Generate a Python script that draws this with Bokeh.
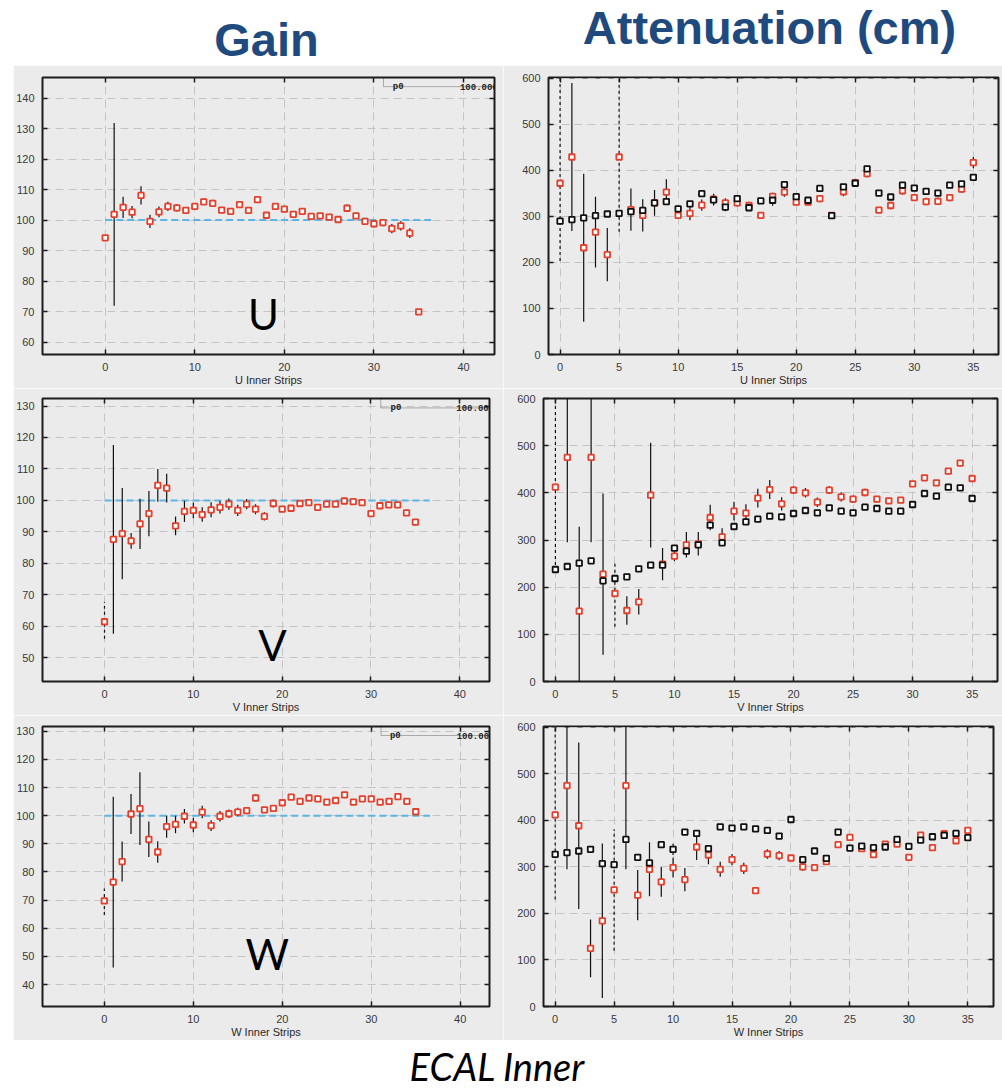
import numpy as np
from bokeh.plotting import figure
from bokeh.layouts import column, row
from bokeh.models import (Range1d, LinearAxis, SingleIntervalTicker, Label,
                          BoxAnnotation, CustomJSTickFormatter, Spacer)
from bokeh.embed import file_html
from bokeh.resources import INLINE

# ---------------- data ----------------
strips = list(range(36))

fit_p0 = 100.0
fit_x = [0.0, 36.6]

gain_u = [94.2, 101.9, 104.2, 102.6, 108.1, 99.6, 102.7, 104.5, 104.0, 103.2, 104.5, 106.0,
          105.5, 103.3, 102.9, 105.1, 103.2, 106.7, 101.6, 104.5, 103.6, 101.9, 102.9, 101.2,
          101.4, 101.0, 100.2, 103.9, 101.4, 99.6, 98.8, 99.2, 97.2, 98.1, 95.7, 69.9]
gain_u_err = [0, 30.0, 3.5, 2.0, 3.0, 2.2, 1.8, 1.5, 1.2, 1.0, 1.0, 1.0, 1.2, 1.0, 1.0, 1.0,
              1.0, 1.0, 1.0, 1.0, 1.0, 1.0, 1.0, 0.8, 0.8, 0.8, 0.8, 1.2, 1.0, 1.2, 1.2, 1.2,
              1.5, 1.5, 1.6, 0.8]
gain_u_dash_x, gain_u_dash_lo, gain_u_dash_hi = [], [], []

gain_v = [61.4, 87.6, 89.4, 87.1, 92.5, 95.8, 104.8, 103.9, 91.9, 96.5, 96.8, 95.5, 97.0,
          97.8, 98.8, 96.8, 98.8, 97.2, 94.9, 99.0, 97.2, 97.5, 99.0, 99.3, 97.8, 98.8, 98.8,
          99.8, 99.6, 99.3, 95.8, 98.3, 98.6, 98.6, 96.0, 93.1]
gain_v_err = [0, 30.0, 14.5, 2.5, 8.0, 7.2, 5.2, 4.6, 3.0, 3.4, 2.5, 2.3, 2.4, 2.0, 1.8, 1.8,
              1.6, 1.6, 1.3, 1.3, 1.0, 1.0, 1.0, 1.0, 1.0, 1.0, 1.0, 1.0, 1.0, 1.0, 1.0, 1.0,
              1.0, 1.0, 1.0, 1.0]
gain_v_dash_x, gain_v_dash_lo, gain_v_dash_hi = [0], [56.0], [67.7]

gain_w = [69.7, 76.4, 83.7, 100.6, 102.5, 91.6, 87.1, 96.1, 96.9, 99.8, 96.7, 101.3, 96.5,
          99.8, 100.7, 101.3, 101.8, 106.3, 102.1, 102.6, 104.6, 106.6, 105.1, 106.3, 106.0,
          104.8, 105.4, 107.4, 104.8, 106.0, 106.0, 104.8, 105.1, 106.8, 105.1, 101.4]
gain_w_err = [0, 30.3, 7.1, 7.1, 12.9, 6.3, 3.8, 3.9, 3.1, 2.6, 2.6, 2.2, 1.9, 1.9, 1.5, 1.5,
              1.3, 1.2, 1.0, 1.0, 1.0, 1.0, 1.0, 1.0, 1.0, 1.0, 1.0, 1.0, 1.0, 1.0, 1.0, 1.0,
              1.0, 1.0, 1.0, 1.0]
gain_w_dash_x, gain_w_dash_lo, gain_w_dash_hi = [0], [64.7], [74.1]

att_u_red = [372.2, 429.2, 232.0, 266.0, 217.0, 429.2, 315.0, 302.5, 329.5, 353.0, 302.5,
             306.8, 324.6, 337.4, 329.5, 329.5, 323.8, 302.5, 343.8, 353.0, 331.0, 331.0,
             338.8, 302.5, 353.7, 373.7, 392.9, 313.9, 323.8, 355.9, 341.0, 332.4, 333.0,
             341.0, 359.4, 417.0]
att_u_red_err = [0, 161, 161, 77, 58, 0, 46, 35, 28, 28, 6, 15, 12, 12, 10, 8, 8, 6, 8, 10,
                 6, 6, 8, 4, 10, 5, 8, 6, 8, 8, 6, 8, 8, 8, 8, 12]
att_u_black = [289.7, 293.2, 296.8, 301.8, 305.3, 306.8, 310.3, 313.2, 329.5, 332.4, 316.7,
               327.4, 349.5, 336.0, 320.3, 338.8, 318.9, 333.8, 335.2, 369.4, 343.0, 335.2,
               360.9, 301.8, 364.4, 372.2, 403.6, 350.9, 342.3, 368.0, 361.6, 354.4, 350.9,
               368.0, 370.8, 385.0]
att_u_black_err = [4, 4, 4, 4, 4, 4, 5, 5, 6, 6, 5, 6, 6, 12, 9, 6, 6, 5, 12, 6, 5, 5, 5, 4,
                   5, 4, 5, 4, 4, 5, 5, 5, 5, 5, 5, 5]
att_u_dash_x, att_u_dash_lo, att_u_dash_hi = [0, 5], [203, 267], [610, 610]

att_v_red = [412.0, 475.0, 149.0, 475.0, 227.6, 186.6, 150.5, 169.0, 395.0, 248.8, 265.7,
             289.8, 291.9, 347.7, 306.7, 361.1, 356.9, 388.7, 407.0, 376.7, 405.7, 400.0,
             380.2, 405.7, 391.5, 386.6, 400.7, 386.6, 383.0, 384.5, 419.0, 431.8, 421.2,
             446.0, 463.0, 430.4]
att_v_red_err = [0, 180, 179, 180, 171, 0, 30, 27, 111, 34, 10, 27, 25, 27, 18, 20, 19, 20,
                 20, 14, 8, 10, 10, 8, 10, 8, 8, 6, 6, 6, 6, 6, 6, 6, 6, 6]
att_v_black = [237.5, 243.8, 250.9, 255.8, 213.4, 218.4, 221.9, 238.9, 246.6, 246.6, 282.7,
               276.3, 289.8, 331.4, 294.0, 328.6, 338.5, 344.2, 350.5, 349.1, 356.2, 362.5,
               357.6, 368.2, 361.1, 357.6, 369.6, 366.8, 361.1, 361.1, 375.3, 398.6, 392.9,
               412.0, 410.6, 388.0]
att_v_black_err = [4, 4, 4, 4, 5, 5, 5, 5, 5, 5, 5, 5, 5, 6, 5, 5, 5, 5, 5, 5, 5, 5, 5, 5, 5,
                   5, 5, 5, 5, 5, 5, 5, 5, 5, 5, 5]
att_v_dash_x, att_v_dash_lo, att_v_dash_hi = [0, 5], [247, 116], [610, 254]

att_w_red = [412.0, 475.0, 388.6, 125.0, 184.3, 250.7, 475.0, 239.3, 295.0, 267.9, 298.6,
             272.9, 342.9, 325.7, 295.0, 315.7, 297.0, 249.3, 327.9, 324.3, 319.3, 300.0,
             298.6, 311.4, 347.9, 363.6, 339.3, 326.4, 349.3, 349.3, 320.7, 368.6, 341.4,
             371.4, 356.4, 378.6]
att_w_red_err = [0, 180, 179, 62, 166, 0, 180, 54, 58, 32, 21, 25, 28, 20, 16, 12, 12, 6, 10,
                 10, 6, 8, 6, 6, 6, 6, 6, 6, 6, 6, 6, 6, 6, 6, 6, 6]
att_w_black = [327.1, 330.7, 334.3, 337.9, 307.1, 305.0, 359.3, 320.7, 308.6, 347.9, 337.9,
               375.0, 372.1, 339.3, 386.4, 383.6, 386.4, 382.1, 378.6, 366.4, 402.1, 315.7,
               334.3, 318.6, 375.0, 340.7, 345.0, 341.4, 342.9, 359.3, 344.3, 357.9, 365.0,
               367.9, 372.1, 362.9]
att_w_black_err = [4, 4, 4, 4, 5, 5, 5, 5, 5, 5, 12, 5, 5, 8, 5, 5, 5, 5, 5, 5, 5, 5, 5, 5, 5,
                   5, 5, 5, 5, 5, 5, 5, 5, 5, 5, 5]
att_w_dash_x, att_w_dash_lo, att_w_dash_hi = [0, 5], [230, 120], [610, 381]

# ---------------- style ----------------
PANEL_BG = "#ebebeb"
RED = "#e2412d"
BLUE = "#5cb6e4"
GRID = "#c4c4c4"
FONT = "Liberation Sans"
TITLE_BLUE = "#1f4a7e"
EMPTY = "return ''"


def make_panel(w, h, xr, yr, borders, xint, yint, xlabel):
    p = figure(width=w, height=h, x_range=Range1d(*xr), y_range=Range1d(*yr),
               output_backend="svg", toolbar_location=None, tools="", title=None,
               min_border_left=borders[0], min_border_right=borders[1],
               min_border_top=borders[2], min_border_bottom=borders[3])
    p.background_fill_color = PANEL_BG
    p.border_fill_color = PANEL_BG
    p.outline_line_color = "#1c1c1c"
    p.outline_line_width = 2
    xa = p.below[0]
    ya = p.left[0]
    xa.ticker = SingleIntervalTicker(interval=xint)
    ya.ticker = SingleIntervalTicker(interval=yint)
    top = LinearAxis(ticker=SingleIntervalTicker(interval=xint),
                     formatter=CustomJSTickFormatter(code=EMPTY))
    right = LinearAxis(ticker=SingleIntervalTicker(interval=yint),
                       formatter=CustomJSTickFormatter(code=EMPTY))
    p.add_layout(top, "above")
    p.add_layout(right, "right")
    for ax in (top, right):
        ax.major_label_standoff = 0
        ax.major_label_text_font_size = "1px"
    for ax in (xa, ya, top, right):
        ax.axis_line_color = None
        ax.major_tick_in = 5
        ax.major_tick_out = 0
        ax.major_tick_line_color = "#1c1c1c"
        ax.major_tick_line_width = 1.5
        ax.minor_tick_line_color = None
    for ax in (xa, ya):
        ax.major_label_text_font = FONT
        ax.major_label_text_font_size = "11px"
        ax.major_label_text_color = "#3a3a3a"
        ax.major_label_standoff = 4
    xa.axis_label = xlabel
    xa.axis_label_text_font = FONT
    xa.axis_label_text_font_size = "11px"
    xa.axis_label_text_font_style = "normal"
    xa.axis_label_text_color = "#2a2a2a"
    xa.axis_label_standoff = 0
    for g in p.grid:
        g.grid_line_color = GRID
        g.grid_line_dash = "8 5"
        g.grid_line_width = 1
    return p


def add_errors(p, yvals, err):
    x = np.array(strips, dtype=float)
    y = np.array(yvals, dtype=float)
    e = np.array(err, dtype=float)
    m = e > 0
    p.segment(x0=x[m], y0=(y - e)[m], x1=x[m], y1=(y + e)[m],
              line_color="#111111", line_width=1.2)


def add_dashed(p, dx, lo, hi):
    if dx:
        p.segment(x0=dx, y0=lo, x1=dx, y1=hi, line_color="#111111",
                  line_width=1.2, line_dash="3 3")


def add_markers(p, yvals, color):
    p.scatter(strips, yvals, marker="square", size=5.5, fill_color="white",
              line_color=color, line_width=1.8)


def gain_panel(w, h, xr, yr, borders, vals, err, dx, dlo, dhi, xlabel,
               letter, lx, ly, box_left, box_bottom, p0x, valx):
    p = make_panel(w, h, xr, yr, borders, 10, 10, xlabel)
    p.line(fit_x, [fit_p0, fit_p0], line_color=BLUE, line_width=2, line_dash="7 4")
    add_dashed(p, dx, dlo, dhi)
    add_errors(p, vals, err)
    add_markers(p, vals, RED)
    p.add_layout(BoxAnnotation(left=box_left, bottom=box_bottom, fill_alpha=0,
                               line_color="#111111", line_width=1))
    p.add_layout(Label(x=p0x, y=box_bottom, text="p0", text_font="Liberation Mono",
                       text_font_size="9px", text_font_style="bold", text_color="#222222",
                       text_baseline="alphabetic"))
    p.add_layout(Label(x=valx, y=box_bottom, text=f"{fit_p0:.4f}",
                       text_font="Liberation Mono", text_font_size="9px",
                       text_font_style="bold", text_color="#222222",
                       text_baseline="alphabetic"))
    p.add_layout(Label(x=lx, y=ly, text=letter, text_font="Lato", text_font_size="42px",
                       text_align="center", text_baseline="bottom", text_color="black"))
    return p


def att_panel(w, h, xr, yr, borders, red, red_err, black, black_err, dx, dlo, dhi, xlabel):
    p = make_panel(w, h, xr, yr, borders, 5, 100, xlabel)
    add_dashed(p, dx, dlo, dhi)
    add_errors(p, red, red_err)
    add_errors(p, black, black_err)
    add_markers(p, red, RED)
    add_markers(p, black, "#111111")
    return p


gU = gain_panel(490, 323, (-7.0, 43.46), (55.9, 146.8), (29, 9, 12, 30),
                gain_u, gain_u_err, gain_u_dash_x, gain_u_dash_lo, gain_u_dash_hi,
                "U Inner Strips", "U", 17.67, 61.1, 31.07, 143.8, 32.1, 39.6)
gV = gain_panel(490, 327, (-6.98, 43.34), (42.4, 132.4), (24, 14, 10, 34),
                gain_v, gain_v_err, gain_v_dash_x, gain_v_dash_lo, gain_v_dash_hi,
                "V Inner Strips", "V", 18.92, 46.2, 31.1, 129.4, 32.2, 39.6)
gW = gain_panel(490, 325, (-6.95, 43.29), (32.2, 131.7), (28, 14, 11, 33),
                gain_w, gain_w_err, gain_w_dash_x, gain_w_dash_lo, gain_w_dash_hi,
                "W Inner Strips", "W", 18.3, 41.8, 31.1, 128.5, 32.1, 39.6)

aU = att_panel(499, 323, (-0.98, 37.13), (0, 602), (45, 2, 11, 30),
               att_u_red, att_u_red_err, att_u_black, att_u_black_err,
               att_u_dash_x, att_u_dash_lo, att_u_dash_hi, "U Inner Strips")
aV = att_panel(499, 327, (-1.0, 37.13), (0, 600), (40, 5, 10, 34),
               att_v_red, att_v_red_err, att_v_black, att_v_black_err,
               att_v_dash_x, att_v_dash_lo, att_v_dash_hi, "V Inner Strips")
aW = att_panel(499, 325, (-0.99, 37.18), (0, 602), (40, 9, 11, 33),
               att_w_red, att_w_red_err, att_w_black, att_w_black_err,
               att_w_dash_x, att_w_dash_lo, att_w_dash_hi, "W Inner Strips")


def text_band(h):
    p = figure(width=1002, height=h, x_range=Range1d(0, 1002), y_range=Range1d(0, h),
               output_backend="svg", toolbar_location=None, tools="", title=None,
               x_axis_location=None, y_axis_location=None,
               min_border_left=0, min_border_right=0, min_border_top=0, min_border_bottom=0)
    p.outline_line_color = None
    p.grid.visible = False
    p.background_fill_color = "white"
    p.border_fill_color = "white"
    return p


title = text_band(65)
title.add_layout(Label(x=266, y=0, text="Gain", text_font="Liberation Sans",
                       text_font_style="bold", text_font_size="47px", text_color=TITLE_BLUE,
                       text_align="center", text_baseline="bottom"))
title.add_layout(Label(x=769, y=12, text="Attenuation (cm)", text_font="Liberation Sans",
                       text_font_style="bold", text_font_size="47px", text_color=TITLE_BLUE,
                       text_align="center", text_baseline="bottom"))

bottom = text_band(48)
bottom.add_layout(Label(x=497, y=0, text="ECAL Inner", text_font="Lato",
                        text_font_style="italic", text_font_size="38px", text_color="black",
                        text_align="center", text_baseline="bottom"))

layout = column(
    title,
    row(Spacer(width=13, height=323), gU, aU),
    row(Spacer(width=13, height=327), gV, aV),
    row(Spacer(width=13, height=325), gW, aW),
    bottom,
)

open("out.html", "w").write(file_html(layout, INLINE))
